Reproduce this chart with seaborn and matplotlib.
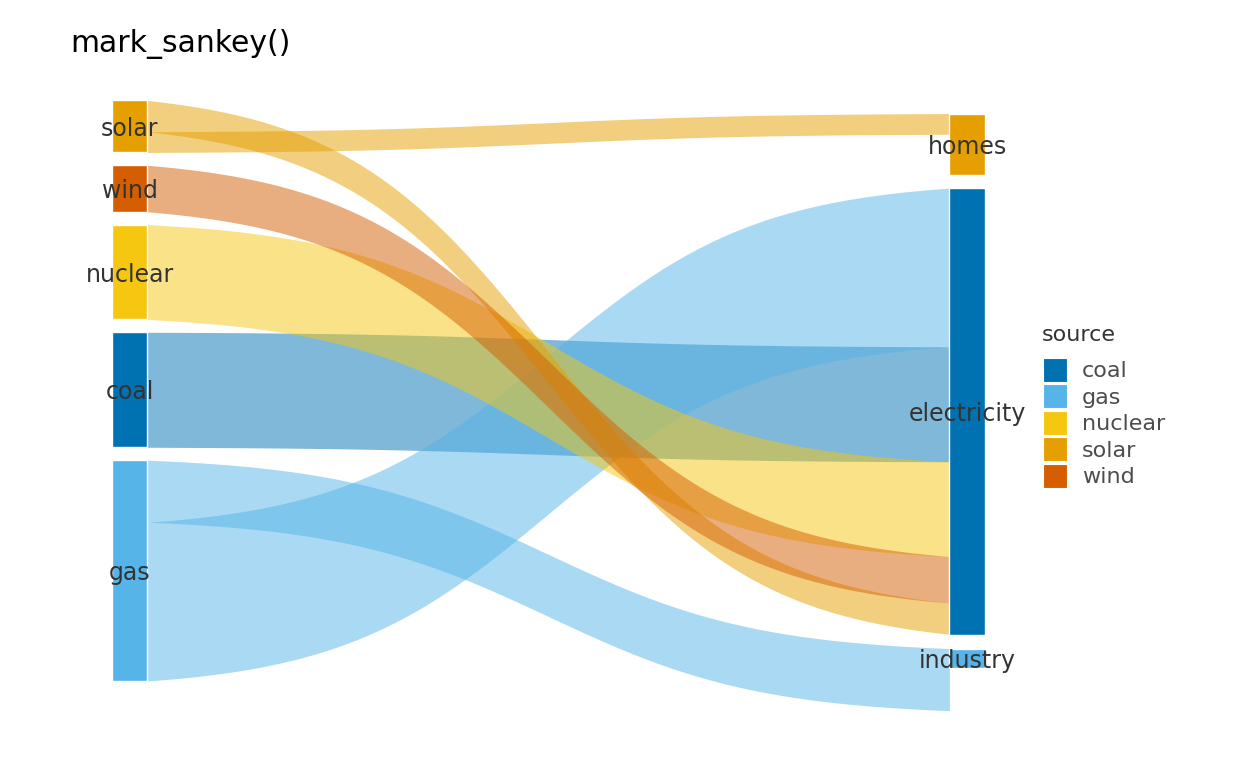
import numpy as np
import matplotlib.pyplot as plt
import matplotlib.patches as mpatches
import seaborn as sns

# Data
sources = ['solar', 'wind', 'nuclear', 'coal', 'gas']          # left column, top to bottom
targets = ['homes', 'electricity', 'industry']                  # right column, top to bottom
flow_source = ['solar', 'solar', 'wind', 'nuclear', 'coal', 'gas', 'gas']
flow_target = ['homes', 'electricity', 'electricity', 'electricity', 'electricity', 'electricity', 'industry']
flow_value = [4.5, 6.8, 10.1, 20.6, 25.0, 34.5, 13.5]
target_node_size = [13.3, 97.2, 4.2]
legend_order = ['coal', 'gas', 'nuclear', 'solar', 'wind']
target_fill = ['solar', 'coal', 'gas']

palette = dict(zip(legend_order, ['#0072B2', '#56B4E9', '#F5C710', '#E69F00', '#D55E00']))

# Layout
GAP_LEFT, GAP_RIGHT = 2.8, 2.9
NODE_W = 0.042
PX_PER_UNIT = 4.6
LEFT_PX, RIGHT_PX, MID_PX = 129.7, 967.0, 390.7
W_PX, H_PX = 1248, 771


def stack_nodes(sizes, gap):
    total = sum(sizes) + gap * (len(sizes) - 1)
    tops, y = [], -total / 2
    for s in sizes:
        tops.append(y)
        y += s + gap
    return tops


def sigmoid(n=200, smooth=3.8):
    z = np.linspace(-smooth, smooth, n)
    s = 1 / (1 + np.exp(-z))
    return (s - s[0]) / (s[-1] - s[0])


source_size = [sum(v for f, v in zip(flow_source, flow_value) if f == s) for s in sources]
source_top = dict(zip(sources, stack_nodes(source_size, GAP_LEFT)))
target_top = dict(zip(targets, stack_nodes(target_node_size, GAP_RIGHT)))

# Where each flow leaves / arrives (stacked in reverse node order)
flows = list(zip(flow_source, flow_target, flow_value))
start, end = {}, {}
for s in sources:
    y = source_top[s]
    for f in sorted([f for f in flows if f[0] == s], key=lambda f: -targets.index(f[1])):
        start[f] = y
        y += f[2]
for t in targets:
    y = target_top[t]
    for f in sorted([f for f in flows if f[1] == t], key=lambda f: -sources.index(f[0])):
        end[f] = y
        y += f[2]

sns.set_theme(style='white')
plt.rcParams['font.family'] = ['DejaVu Sans']

fig = plt.figure(figsize=(W_PX / 100, H_PX / 100), dpi=100)
ax = fig.add_axes([0, 0, 1, 1])
scale_x = RIGHT_PX - LEFT_PX
ax.set_xlim(-LEFT_PX / scale_x, (W_PX - LEFT_PX) / scale_x)
ax.set_ylim((H_PX - MID_PX) / PX_PER_UNIT, -MID_PX / PX_PER_UNIT)
ax.axis('off')

# Flows, drawn in alphabetical source order
xs = np.linspace(NODE_W / 2, 1 - NODE_W / 2, 200)
shape = sigmoid(len(xs))
for s in legend_order:
    for f in [f for f in flows if f[0] == s]:
        top = start[f] + (end[f] - start[f]) * shape
        ax.fill_between(xs, top, top + f[2], color=palette[s], alpha=0.5, linewidth=0)

# Nodes
ax.bar([0] * len(sources), source_size, bottom=[source_top[s] for s in sources], width=NODE_W,
       color=[palette[s] for s in sources], edgecolor='white', linewidth=1)
ax.bar([1] * len(targets), target_node_size, bottom=[target_top[t] for t in targets], width=NODE_W,
       color=[palette[c] for c in target_fill], edgecolor='white', linewidth=1)

for s, size in zip(sources, source_size):
    ax.text(0, source_top[s] + size / 2, s, ha='center', va='center_baseline',
            fontsize=17, color='#333333')
for t, size in zip(targets, target_node_size):
    ax.text(1, target_top[t] + size / 2, t, ha='center', va='center_baseline',
            fontsize=17, color='#333333')

# Title and legend
fig.text(70 / W_PX, 1 - 52 / H_PX, 'mark_sankey()', fontsize=21.5, color='black', va='baseline')
fig.text(1042 / W_PX, 1 - 325 / H_PX, 'source', fontsize=16, color='#333333', va='top')

handles = [mpatches.Patch(facecolor=palette[s], edgecolor='white', linewidth=0.8, label=s) for s in legend_order]
leg = fig.legend(handles=handles, loc='upper left',
                 bbox_to_anchor=(1043 / W_PX, 1 - 358 / H_PX), frameon=False, fontsize=16,
                 handlelength=1.08, handleheight=1.285, handletextpad=0.68,
                 labelspacing=0.11, borderpad=0, borderaxespad=0)
for txt in leg.get_texts():
    txt.set_color('#4D4D4D')

fig.savefig('out.png', dpi=100)
